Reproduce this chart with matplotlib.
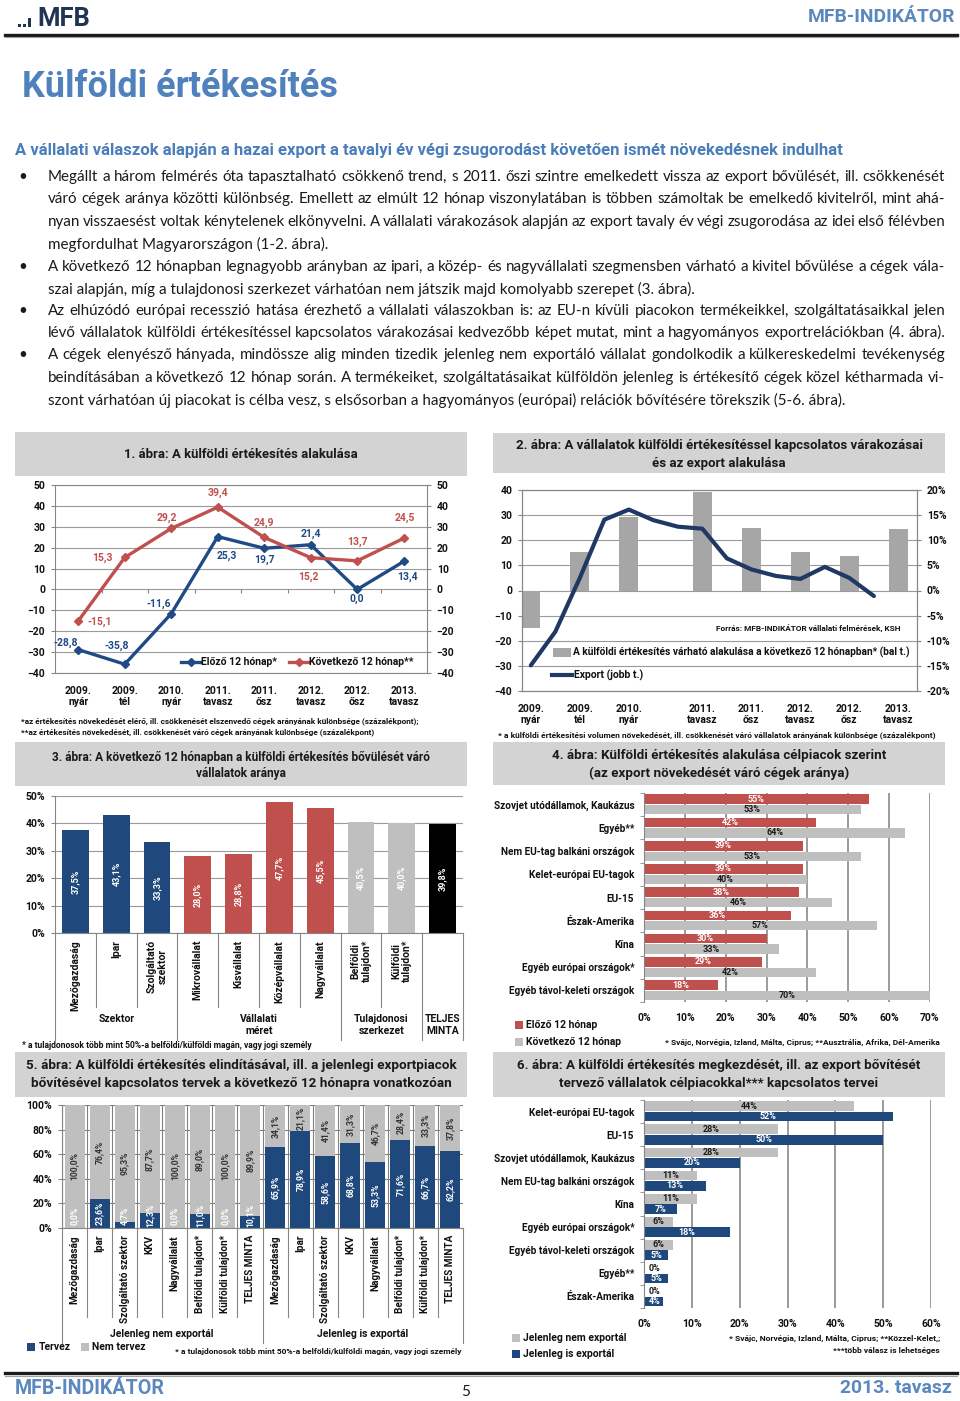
import matplotlib
matplotlib.use('Agg')
import matplotlib.pyplot as plt
import matplotlib.transforms as mtrans
from matplotlib.patches import Rectangle
import numpy as np
import logging
logging.getLogger('matplotlib.font_manager').setLevel(logging.ERROR)

plt.rcParams['font.family'] = ['Roboto', 'DejaVu Sans']
plt.rcParams['font.weight'] = 'bold'
plt.rcParams['axes.linewidth'] = 0.8
BODYFONT = ['Lato', 'DejaVu Sans']
NARROW = ['Liberation Sans Narrow', 'Roboto', 'DejaVu Sans']

# ---------------- data ----------------
periods = ['2009.\nnyár', '2009.\ntél', '2010.\nnyár', '2011.\ntavasz',
           '2011.\nősz', '2012.\ntavasz', '2012.\nősz', '2013.\ntavasz']
prev12 = [-28.8, -35.8, -11.6, 25.3, 19.7, 21.4, 0.0, 13.4]
next12 = [-15.1, 15.3, 29.2, 39.4, 24.9, 15.2, 13.7, 24.5]

survey_pos = [0, 1, 2, 3.5, 4.5, 5.5, 6.5, 7.5]
export_pos = [0, 0.5, 1, 1.5, 2, 2.5, 3, 3.5, 4, 4.5, 5, 5.5, 6, 6.5, 7]
export_growth = [-14.9, -8.2, 2.5, 14.1, 16.1, 14.0, 12.7, 12.3, 6.4, 4.2, 2.9, 2.3, 4.7, 2.5, -1.1]

c3_cats = ['Mezőgazdaság', 'Ipar', 'Szolgáltató\nszektor', 'Mikrovállalat', 'Kisvállalat',
           'Középvállalat', 'Nagyvállalat', 'Belföldi\ntulajdon*', 'Külföldi\ntulajdon*', '']
c3_vals = [37.5, 43.1, 33.3, 28.0, 28.8, 47.7, 45.5, 40.5, 40.0, 39.8]
c3_groups = ['Szektor', 'Vállalati\nméret', 'Tulajdonosi\nszerkezet', 'TELJES\nMINTA']
c3_group_sizes = [3, 4, 2, 1]

c4_cats = ['Szovjet utódállamok, Kaukázus', 'Egyéb**', 'Nem EU-tag balkáni országok',
           'Kelet-európai EU-tagok', 'EU-15', 'Észak-Amerika', 'Kína',
           'Egyéb európai országok*', 'Egyéb távol-keleti országok']
c4_prev = [55, 42, 39, 39, 38, 36, 30, 29, 18]
c4_next = [53, 64, 53, 40, 46, 57, 33, 42, 70]

c5_cats = ['Mezőgazdaság', 'Ipar', 'Szolgáltató szektor', 'KKV', 'Nagyvállalat',
           'Belföldi tulajdon*', 'Külföldi tulajdon*', 'TELJES MINTA']
c5_plan_non = [0.0, 23.6, 4.7, 12.3, 0.0, 11.0, 0.0, 10.1]
c5_noplan_non = [100.0, 76.4, 95.3, 87.7, 100.0, 89.0, 100.0, 89.9]
c5_plan_exp = [65.9, 78.9, 58.6, 68.8, 53.3, 71.6, 66.7, 62.2]
c5_noplan_exp = [34.1, 21.1, 41.4, 31.3, 46.7, 28.4, 33.3, 37.8]
c5_groups = ['Jelenleg nem exportál', 'Jelenleg is exportál']

c6_cats = ['Kelet-európai EU-tagok', 'EU-15', 'Szovjet utódállamok, Kaukázus',
           'Nem EU-tag balkáni országok', 'Kína', 'Egyéb európai országok*',
           'Egyéb távol-keleti országok', 'Egyéb**', 'Észak-Amerika']
c6_non = [44, 28, 28, 11, 11, 6, 6, 0, 0]
c6_exp = [52, 50, 20, 13, 7, 18, 5, 5, 4]

body = [
    ("Megállt a három felmérés óta tapasztalható csökkenő trend, s 2011. őszi szintre emelkedett vissza az export bővülését, ill. csökkenését", True, True),
    ("váró cégek aránya közötti különbség. Emellett az elmúlt 12 hónap viszonylatában is többen számoltak be emelkedő kivitelről, mint ahá-", False, True),
    ("nyan visszaesést voltak kénytelenek elkönyvelni. A vállalati várakozások alapján az export tavaly év végi zsugorodása az idei első félévben", False, True),
    ("megfordulhat Magyarországon (1-2. ábra).", False, False),
    ("A következő 12 hónapban legnagyobb arányban az ipari, a közép- és nagyvállalati szegmensben várható a kivitel bővülése a cégek vála-", True, True),
    ("szai alapján, míg a tulajdonosi szerkezet várhatóan nem játszik majd komolyabb szerepet (3. ábra).", False, False),
    ("Az elhúzódó európai recesszió hatása érezhető a vállalati válaszokban is: az EU-n kívüli piacokon termékeikkel, szolgáltatásaikkal jelen", True, True),
    ("lévő vállalatok külföldi értékesítéssel kapcsolatos várakozásai kedvezőbb képet mutat, mint a hagyományos exportrelációkban (4. ábra).", False, True),
    ("A cégek elenyésző hányada, mindössze alig minden tizedik jelenleg nem exportáló vállalat gondolkodik a külkereskedelmi tevékenység", True, True),
    ("beindításában a következő 12 hónap során. A termékeiket, szolgáltatásaikat külföldön jelenleg is értékesítő cégek közel kétharmada vi-", False, True),
    ("szont várhatóan új piacokat is célba vesz, s elsősorban a hagyományos (európai) relációk bővítésére törekszik (5-6. ábra).", False, False),
]

# ---------------- styles ----------------
W, H = 960, 1401
BLUE = '#1f497d'
BLUE_L = '#1f4a86'
NAVY2 = '#1f3864'
RED = '#c0504d'
GRAY = '#bfbfbf'
GRAY2 = '#a6a6a6'
BOXG = '#d3d3d3'
GRID = '#9a9a9a'
SPINE = '#868686'
DARK = '#1a1a1a'
HEAD = '#4f81bd'

fig = plt.figure(figsize=(W / 100, H / 100), dpi=100)
bg = fig.add_axes([0, 0, 1, 1], zorder=0)
top = fig.add_axes([0, 0, 1, 1], zorder=10)
for a in (bg, top):
    a.set_xlim(0, W)
    a.set_ylim(H, 0)
    a.axis('off')
    a.set_autoscale_on(False)
renderer = fig.canvas.get_renderer()


def pax(x0, y0, x1, y1):
    a = fig.add_axes([x0 / W, 1 - y1 / H, (x1 - x0) / W, (y1 - y0) / H], zorder=5)
    for s in a.spines.values():
        s.set_color(SPINE)
    return a


def T(x, y, s, size=7.5, width=None, weight='bold', color=DARK, ha='left', va='center', **kw):
    t = top.text(x, y, s, fontsize=size, fontweight=weight, color=color, ha=ha, va=va, **kw)
    if width is not None:
        w = t.get_window_extent(renderer).width
        t.set_fontsize(size * width / w)
    return t


def measure(s, size, weight='normal'):
    t = top.text(0, 0, s, fontsize=size, fontweight=weight, family=BODYFONT)
    w = t.get_window_extent(renderer).width
    t.remove()
    return w


def fmt1(v):
    return f"{v:.1f}%".replace('.', ',')


def title_box(x0, y0, x1, y1, lines, ys, width):
    bg.add_patch(Rectangle((x0, y0), x1 - x0, y1 - y0, color=BOXG, lw=0))
    cx = (x0 + x1) / 2
    t = T(cx, ys[0], lines[0], size=9, width=width, ha='center', color='#1a1a1a')
    for ln, yy in zip(lines[1:], ys[1:]):
        T(cx, yy, ln, size=t.get_fontsize(), ha='center', color='#1a1a1a')


# ---------------- header ----------------
NAVYL = '#1f3553'
for (x, h) in [(18, 3), (23, 3), (28, 9)]:
    bg.add_patch(Rectangle((x, 27 - h), 3.2, h, color=NAVYL, lw=0))
T(37, 18.5, 'MFB', size=14, width=53, color=NAVYL)
T(955, 17, 'MFB-INDIKÁTOR', size=11, width=147, color='#5b88be', ha='right', family=NARROW)
bg.plot([5, 957], [34.5, 34.5], color='#1a1a1a', lw=2.4)
bg.plot([5, 957], [37, 37], color='#a0a0a0', lw=0.8)

T(22, 87, 'Külföldi értékesítés', size=24, width=316, color=HEAD, family=NARROW)
T(15, 150, 'A vállalati válaszok alapján a hazai export a tavalyi év végi zsugorodást követően ismét növekedésnek indulhat',
  size=10, width=830, color='#4a7ebb')

# body text (justified)
X0, X1 = 48, 945
base = 10.0
sp = measure('a a', base) - measure('aa', base)
nat = sum(measure(w, base) for w in body[0][0].split()) + sp * (len(body[0][0].split()) - 1)
bsize = base * (X1 - X0) / nat * 0.995
line_ys = [177, 199, 222, 244, 267, 289, 311, 333, 355, 378, 400]
for (s, bullet, just), yy in zip(body, line_ys):
    if bullet:
        top.text(18, yy, '•', fontsize=bsize, fontweight='normal', family=BODYFONT, color='#1a1a1a', va='center')
    words = s.split()
    if just:
        ws = [measure(w, bsize) for w in words]
        gap = (X1 - X0 - sum(ws)) / (len(words) - 1)
        xx = X0
        for w, wd in zip(words, ws):
            top.text(xx, yy, w, fontsize=bsize, fontweight='normal', family=BODYFONT, color='#1a1a1a', va='center')
            xx += wd + gap
    else:
        top.text(X0, yy, s, fontsize=bsize, fontweight='normal', family=BODYFONT, color='#1a1a1a', va='center')

# ---------------- chart 1 ----------------
title_box(15, 432, 467, 476, ['1. ábra: A külföldi értékesítés alakulása'], [454], 233)
ax1 = pax(55, 485, 427, 673)
xc = np.arange(len(periods)) + 0.5
ax1.plot(xc, prev12, color=BLUE_L, lw=2.4, marker='D', ms=4.5, zorder=3)
ax1.plot(xc, next12, color=RED, lw=2.4, marker='D', ms=4.5, zorder=3)
ax1.set_xlim(0, len(periods))
ax1.set_ylim(-40, 50)
ax1.set_yticks(np.arange(-40, 51, 10))
ax1.yaxis.grid(True, color=GRID, lw=0.8)
ax1.set_axisbelow(True)
ax1.tick_params(axis='y', left=True, right=True, labelleft=True, labelright=True,
                length=3, width=0.8, color=SPINE, labelsize=7.5, pad=4, labelcolor='#111111')
ax1.set_xticks(xc, periods)
ax1.tick_params(axis='x', length=0, pad=9, labelsize=7.5, labelcolor='#111111')
ax1.vlines(np.arange(1, len(periods)), -1.6, 0, color=SPINE, lw=0.8)
off_prev = [(-12, 7), (-8, 18), (-12, 10), (9, -19), (0, -12), (0, 11), (0, -9), (4, -15)]
off_next = [(22, -1), (-22, 0), (-4, 11), (0, 14), (0, 15), (-2, -19), (0, 19), (1, 20)]
for x, v, o in zip(xc, prev12, off_prev):
    ax1.annotate(f"{v:.1f}".replace('.', ','), (x, v), xytext=o, textcoords='offset pixels',
                 ha='center', va='center', color=BLUE_L, fontsize=7.5)
for x, v, o in zip(xc, next12, off_next):
    ax1.annotate(f"{v:.1f}".replace('.', ','), (x, v), xytext=o, textcoords='offset pixels',
                 ha='center', va='center', color=RED, fontsize=7.5)
top.plot([181, 200], [662, 662], color=BLUE_L, lw=2.4)
top.plot([190.5], [662], color=BLUE_L, marker='D', ms=4.5)
T(201, 662, 'Előző 12 hónap*', size=7.5, color='#111111')
top.plot([289, 308], [662, 662], color=RED, lw=2.4)
top.plot([298.5], [662], color=RED, marker='D', ms=4.5)
T(309, 662, 'Következő 12 hónap**', size=7.5, color='#111111')
T(21, 721, '*az értékesítés növekedését elérő, ill. csökkenését elszenvedő cégek arányának különbsége (százalékpont);',
  size=5.5, width=402, color='#111111')
T(21, 732, '**az értékesítés növekedését, ill. csökkenését váró cégek arányának különbsége (százalékpont)',
  size=5.5, width=358, color='#111111')

# ---------------- chart 2 ----------------
title_box(493, 433, 945, 473, ['2. ábra: A vállalatok külföldi értékesítéssel kapcsolatos várakozásai',
                               'és az export alakulása'], [445, 463], 401)
ax2 = pax(522, 490, 917, 691)
ax2.bar(survey_pos, next12, width=0.39, color=GRAY2, zorder=2)
ax2.set_xlim(-0.18, 7.88)
ax2.set_ylim(-40, 40)
ax2.set_yticks(np.arange(-40, 41, 10))
ax2.yaxis.grid(True, color=GRID, lw=0.8)
ax2.set_axisbelow(True)
ax2.tick_params(axis='y', length=3, color=SPINE, labelsize=7.5, pad=4, labelcolor='#111111')
ax2.set_xticks(survey_pos, periods)
ax2.tick_params(axis='x', length=0, pad=9, labelsize=7.5, labelcolor='#111111')
ax2r = ax2.twinx()
ax2r.set_zorder(6)
ax2r.patch.set_visible(False)
ax2r.plot(export_pos, export_growth, color=NAVY2, lw=3, zorder=3, solid_capstyle='round')
ax2r.set_ylim(-20, 20)
rt = np.arange(-20, 21, 5)
ax2r.set_yticks(rt, [f'{v}%' for v in rt])
ax2r.tick_params(axis='y', length=3, color=SPINE, labelsize=7.5, pad=4, labelcolor='#111111')
for s in ax2r.spines.values():
    s.set_color(SPINE)
T(901, 629, 'Forrás: MFB-INDIKÁTOR vállalati felmérések, KSH', size=6, width=186, ha='right', color='#111111')
top.add_patch(Rectangle((553, 648), 18, 9, color=GRAY2, lw=0))
T(573, 652, 'A külföldi értékesítés várható alakulása a következő 12 hónapban* (bal t.)', size=7.3, width=335, color='#111111')
top.plot([552, 572], [675, 675], color=NAVY2, lw=3)
T(574, 675, 'Export (jobb t.)', size=7.5, color='#111111')
T(498, 735, '* a külföldi értékesítési volumen növekedését, ill. csökkenését váró vállalatok arányának különbsége (százalékpont)',
  size=5.5, width=438, color='#111111')

# ---------------- chart 3 ----------------
title_box(15, 742, 467, 786, ['3. ábra: A következő 12 hónapban a külföldi értékesítés bővülését váró',
                              'vállalatok aránya'], [757, 773], 378)
ax3 = pax(55, 796, 463, 933)
x3 = np.arange(len(c3_vals)) + 0.5
cols3 = []
for g, n in zip([BLUE, RED, GRAY, 'black'], c3_group_sizes):
    cols3 += [g] * n
ax3.bar(x3, c3_vals, width=0.66, color=cols3, zorder=2)
ax3.set_xlim(0, len(c3_vals))
ax3.set_ylim(0, 50)
yt = np.arange(0, 51, 10)
ax3.set_yticks(yt, [f'{v}%' for v in yt])
ax3.yaxis.grid(True, color=GRID, lw=0.8)
ax3.set_axisbelow(True)
ax3.set_xticks([])
ax3.tick_params(axis='y', length=3, color=SPINE, labelsize=7.5, pad=4, labelcolor='#111111')
ax3.spines['top'].set_visible(False)
ax3.spines['right'].set_visible(False)
for x, v in zip(x3, c3_vals):
    ax3.text(x, v / 2, fmt1(v), rotation=90, ha='center', va='center', color='white', fontsize=6.5)
b3 = mtrans.blended_transform_factory(ax3.transData, top.transData)
for x, s in zip(x3, c3_cats):
    if s:
        top.text(x, 940, s, transform=b3, rotation=90, ha='center', va='top', fontsize=7.5,
                 color='#111111', multialignment='center', linespacing=1.1)
gb = np.concatenate([[0], np.cumsum(c3_group_sizes)])
for k in range(len(c3_vals) + 1):
    yend = 1040 if k in gb else 1007
    top.plot([k, k], [933, yend], transform=b3, color=SPINE, lw=0.8)
for i, g in enumerate(c3_groups):
    cx = (gb[i] + gb[i + 1]) / 2
    top.text(cx, 1014, g, transform=b3, ha='center', va='top', fontsize=7.5, color='#111111',
             multialignment='center', linespacing=1.25)
T(22, 1045, '* a tulajdonosok több mint 50%-a belföldi/külföldi magán, vagy jogi személy',
  size=5.5, width=292, color='#111111')

# ---------------- chart 4 ----------------
title_box(493, 742, 945, 785, ['4. ábra: Külföldi értékesítés alakulása célpiacok szerint',
                               '(az export növekedését váró cégek aránya)'], [755, 773], 332)
ax4 = pax(644, 793, 930, 1002)
y4 = np.arange(len(c4_cats)) + 0.5
ax4.barh(y4 - 0.23, c4_prev, height=0.42, color=RED, zorder=2)
ax4.barh(y4 + 0.22, c4_next, height=0.40, color=GRAY, zorder=2)
ax4.set_ylim(len(c4_cats), 0)
ax4.set_xlim(0, 70)
xt = np.arange(0, 71, 10)
ax4.set_xticks(xt, [f'{v}%' for v in xt])
ax4.xaxis.grid(True, color='#808080', lw=1.1)
ax4.set_axisbelow(True)
ax4.set_yticks(y4, c4_cats)
ax4.set_yticks(np.arange(len(c4_cats) + 1), minor=True)
ax4.tick_params(axis='y', which='major', length=0, pad=7, labelsize=7.2, labelcolor='#111111')
ax4.tick_params(axis='y', which='minor', length=3, color=SPINE)
ax4.tick_params(axis='x', length=0, pad=8, labelsize=7.5, labelcolor='#111111')
for s in ['top', 'right', 'bottom']:
    ax4.spines[s].set_visible(False)
for y, v in zip(y4, c4_prev):
    ax4.text(v / 2, y - 0.23, f'{v}%', ha='center', va='center', color='white', fontsize=6.5)
for y, v in zip(y4, c4_next):
    ax4.text(v / 2, y + 0.22, f'{v}%', ha='center', va='center', color='#1a1a1a', fontsize=6.5)
top.add_patch(Rectangle((515, 1021), 8, 8, color=RED, lw=0))
T(526, 1025, 'Előző 12 hónap', size=7.5, color='#111111')
top.add_patch(Rectangle((515, 1038), 8, 8, color=GRAY, lw=0))
T(526, 1042, 'Következő 12 hónap', size=7.5, color='#111111')
T(940, 1042, '* Svájc, Norvégia, Izland, Málta, Ciprus; **Ausztrália, Afrika, Dél-Amerika',
  size=5.5, width=275, ha='right', color='#111111')

# ---------------- chart 5 ----------------
title_box(15, 1052, 467, 1097, ['5. ábra: A külföldi értékesítés elindításával, ill. a jelenlegi exportpiacok',
                                'bővítésével kapcsolatos tervek a következő 12 hónapra vonatkozóan'], [1066, 1083], 426)
ax5 = pax(62, 1105, 463, 1228)
plan = c5_plan_non + c5_plan_exp
noplan = c5_noplan_non + c5_noplan_exp
cats5 = c5_cats + c5_cats
x5 = np.arange(len(plan)) + 0.5
ax5.bar(x5, plan, width=0.8, color=BLUE, zorder=2)
ax5.bar(x5, noplan, bottom=plan, width=0.8, color=GRAY, zorder=2)
ax5.set_xlim(0, len(plan))
ax5.set_ylim(0, 100)
yt5 = np.arange(0, 101, 20)
ax5.set_yticks(yt5, [f'{v}%' for v in yt5])
ax5.set_xticks(np.arange(len(plan) + 1))
ax5.tick_params(axis='x', length=0, labelbottom=False)
ax5.grid(True, color='#808080', lw=0.8)
ax5.set_axisbelow(True)
ax5.tick_params(axis='y', length=3, color=SPINE, labelsize=7.5, pad=4, labelcolor='#111111')
ax5.spines['top'].set_visible(False)
ax5.spines['right'].set_visible(False)
for x, p, q in zip(x5, plan, noplan):
    ax5.text(x, max(p / 2, 10), fmt1(p), rotation=90, ha='center', va='center', color='white', fontsize=6.2)
    ax5.text(x, p + q / 2, fmt1(q), rotation=90, ha='center', va='center', color='#333333', fontsize=6.2)
b5 = mtrans.blended_transform_factory(ax5.transData, top.transData)
for x, s in zip(x5, cats5):
    top.text(x, 1235, s, transform=b5, rotation=90, ha='center', va='top', fontsize=7.2, color='#111111')
half = len(c5_cats)
for k in range(len(plan) + 1):
    yend = 1343 if k in (0, half, len(plan)) else 1317
    top.plot([k, k], [1228, yend], transform=b5, color=SPINE, lw=0.8)
for i, g in enumerate(c5_groups):
    top.text(half * i + half / 2, 1334, g, transform=b5, ha='center', va='center', fontsize=7.5, color='#111111')
top.add_patch(Rectangle((27, 1343), 8, 8, color=BLUE, lw=0))
T(39, 1347, 'Tervez', size=7.5, color='#111111')
top.add_patch(Rectangle((81, 1343), 8, 8, color=GRAY, lw=0))
T(92, 1347, 'Nem tervez', size=7.5, color='#111111')
T(175, 1351, '* a tulajdonosok több mint 50%-a belföldi/külföldi magán, vagy jogi személy',
  size=5.5, width=287, color='#111111')

# ---------------- chart 6 ----------------
title_box(493, 1052, 945, 1097, ['6. ábra: A külföldi értékesítés megkezdését, ill. az export bővítését',
                                 'tervező vállalatok célpiacokkal*** kapcsolatos tervei'], [1066, 1083], 400)
ax6 = pax(644, 1100, 931, 1308)
y6 = np.arange(len(c6_cats)) + 0.5
ax6.barh(y6 - 0.23, c6_non, height=0.42, color=GRAY, zorder=2)
ax6.barh(y6 + 0.22, c6_exp, height=0.42, color=BLUE, zorder=2)
ax6.set_ylim(len(c6_cats), 0)
ax6.set_xlim(0, 60)
xt6 = np.arange(0, 61, 10)
ax6.set_xticks(xt6, [f'{v}%' for v in xt6])
ax6.xaxis.grid(True, color='#808080', lw=1.1)
ax6.set_axisbelow(True)
ax6.set_yticks(y6, c6_cats)
ax6.set_yticks(np.arange(len(c6_cats) + 1), minor=True)
ax6.tick_params(axis='y', which='major', length=0, pad=7, labelsize=7.2, labelcolor='#111111')
ax6.tick_params(axis='y', which='minor', length=3, color=SPINE)
ax6.tick_params(axis='x', length=0, pad=8, labelsize=7.5, labelcolor='#111111')
for s in ['top', 'right', 'bottom']:
    ax6.spines[s].set_visible(False)
for y, v in zip(y6, c6_non):
    ax6.text(max(v / 2, 2.2), y - 0.23, f'{v}%', ha='center', va='center', color='#1a1a1a', fontsize=6.5)
for y, v in zip(y6, c6_exp):
    ax6.text(max(v / 2, 2.2), y + 0.22, f'{v}%', ha='center', va='center', color='white', fontsize=6.5)
top.add_patch(Rectangle((512, 1334), 8, 8, color=GRAY, lw=0))
T(523, 1338, 'Jelenleg nem exportál', size=7.5, color='#111111')
top.add_patch(Rectangle((512, 1350), 8, 8, color=BLUE, lw=0))
T(523, 1354, 'Jelenleg is exportál', size=7.5, color='#111111')
T(940, 1338, '* Svájc, Norvégia, Izland, Málta, Ciprus; **Közzel-Kelet,;', size=5.5, width=212, ha='right', color='#111111')
T(940, 1350, '***több válasz is lehetséges', size=5.5, width=106, ha='right', color='#111111')

# ---------------- footer ----------------
bg.plot([5, 957], [1373, 1373], color='#1a1a1a', lw=2.4)
bg.plot([5, 957], [1375.5, 1375.5], color='#a0a0a0', lw=0.8)
T(15, 1388, 'MFB-INDIKÁTOR', size=11, width=150, color='#5b88be', family=NARROW)
T(466, 1392, '5', size=11, weight='normal', ha='center', color='#1a1a1a', family=BODYFONT)
T(952, 1388, '2013. tavasz', size=11, width=112, ha='right', color='#5b88be', family=NARROW)

fig.savefig('out.png', dpi=100)
